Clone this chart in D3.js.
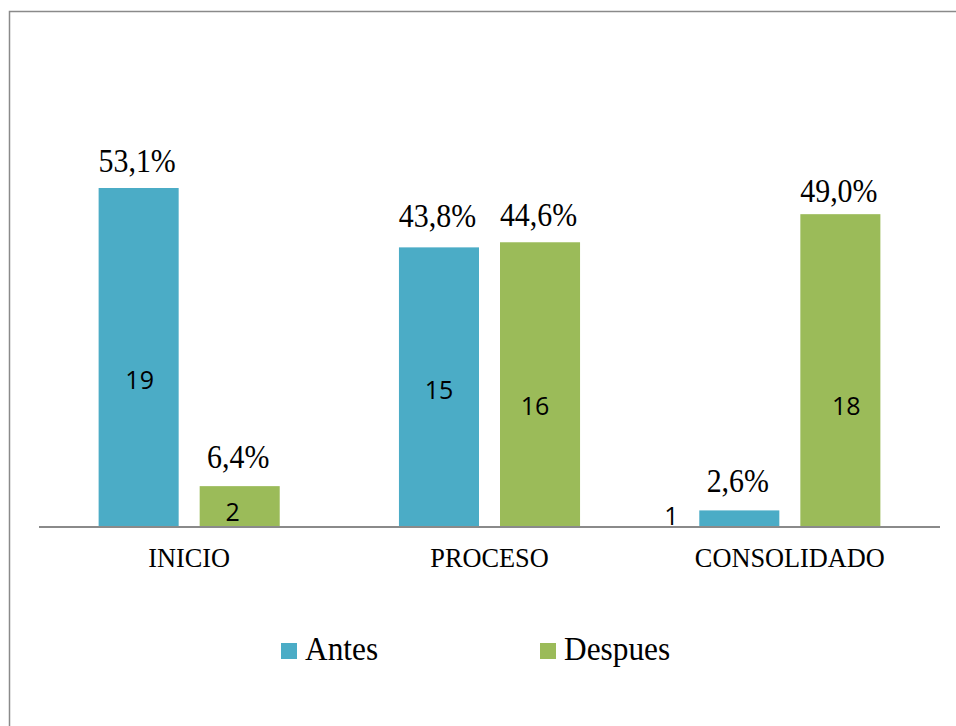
<!DOCTYPE html>
<html>
<head>
<meta charset="utf-8">
<script src="https://cdn.jsdelivr.net/npm/d3@7"></script>
<style>
  html, body { margin: 0; padding: 0; background: #fff; }
  svg { display: block; }
</style>
</head>
<body>
<script>
// Nivel de logro: antes y después
const categories = ["INICIO", "PROCESO", "CONSOLIDADO"];
const seriesNames = ["Antes", "Despues"];
const antesPct = [53.1, 43.8, 2.6];
const despuesPct = [6.4, 44.6, 49.0];
const antesCount = [19, 15, 1];
const despuesCount = [2, 16, 18];
const seriesColors = ["#4BACC6", "#9BBB59"];

// Layout tweaks for the label placement (pixels)
const pctGap = [[16, 20, 18], [18, 16, 12]];           // gap between bar top and % label
const countDx = [[1, 0, -68], [-7, -5, 6]];            // x shift of count labels from bar centre
const countBase = [[138, 128, 2], [6, 112, 112]];      // count label baseline above the axis

const W = 956, H = 726;
const serif = "'Liberation Serif', 'Times New Roman', serif";
const sans = "'Open Sans', 'Liberation Sans', sans-serif";

const svg = d3.select("body").append("svg").attr("width", W).attr("height", H);

// Outer frame
svg.append("rect")
  .attr("x", 9.5).attr("y", 11.5)
  .attr("width", W + 10).attr("height", H + 10)
  .attr("fill", "none").attr("stroke", "#8a8a8a").attr("stroke-width", 1.5);

const plot = { left: 39, right: 940, base: 527 };

const x0 = d3.scaleBand().domain(categories).range([plot.left, plot.right]).paddingInner(0).paddingOuter(0);
const x1 = d3.scaleBand().domain(seriesNames).range([0, x0.bandwidth()]).paddingInner(21 / 101).paddingOuter(0.59);
const y = d3.scaleLinear().domain([0, 60]).range([plot.base, plot.base - 60 * (339 / 53.1)]);

const seriesPct = [antesPct, despuesPct];
const seriesCount = [antesCount, despuesCount];

const rows = [];
seriesNames.forEach((s, si) => {
  categories.forEach((c, ci) => {
    rows.push({ s, si, c, ci, pct: seriesPct[si][ci], n: seriesCount[si][ci] });
  });
});

const fmtPct = v => d3.format(".1f")(v).replace(".", ",") + "%";

// Bars
svg.append("g").selectAll("rect").data(rows).join("rect")
  .attr("x", d => x0(d.c) + x1(d.s))
  .attr("y", d => y(d.pct))
  .attr("width", x1.bandwidth())
  .attr("height", d => y(0) - y(d.pct))
  .attr("fill", d => seriesColors[d.si]);

// Category axis
const axis = svg.append("g").attr("transform", `translate(0,${plot.base})`)
  .call(d3.axisBottom(x0).tickSize(0).tickPadding(0));
axis.select(".domain").attr("stroke", "#8a8a8a").attr("stroke-width", 2)
  .attr("d", `M${plot.left},0H${plot.right}`);
axis.selectAll(".tick text")
  .attr("font-family", serif).attr("font-size", 28).attr("fill", "#000")
  .attr("dy", null).attr("y", 40)
  .attr("transform", d => `translate(${0},0)`)
  .each(function () {
    const t = d3.select(this);
    t.attr("transform", "scale(0.94,1)");
  });

// Percentage labels above bars
svg.append("g").selectAll("text").data(rows).join("text")
  .attr("transform", d => `translate(${x0(d.c) + x1(d.s) + x1.bandwidth() / 2 - 1.5},${y(d.pct) - pctGap[d.si][d.ci]}) scale(0.88,1)`)
  .attr("text-anchor", "middle")
  .attr("font-family", serif).attr("font-size", 34).attr("fill", "#000")
  .text(d => fmtPct(d.pct));

// Count labels
svg.append("g").selectAll("text").data(rows).join("text")
  .attr("x", d => x0(d.c) + x1(d.s) + x1.bandwidth() / 2 + countDx[d.si][d.ci])
  .attr("y", d => plot.base - countBase[d.si][d.ci])
  .attr("text-anchor", "middle")
  .attr("font-family", sans).attr("font-size", 25).attr("fill", "#000")
  .text(d => d.n);

// Legend
const legendX = [281, 540];
const legend = svg.append("g").selectAll("g").data(seriesNames).join("g")
  .attr("transform", (d, i) => `translate(${legendX[i]},643)`);
legend.append("rect").attr("width", 16).attr("height", 16)
  .attr("fill", (d, i) => seriesColors[i]);
legend.append("text")
  .attr("transform", "translate(24,17) scale(0.95,1)")
  .attr("font-family", serif).attr("font-size", 33).attr("fill", "#000")
  .text(d => d);
</script>
</body>
</html>
